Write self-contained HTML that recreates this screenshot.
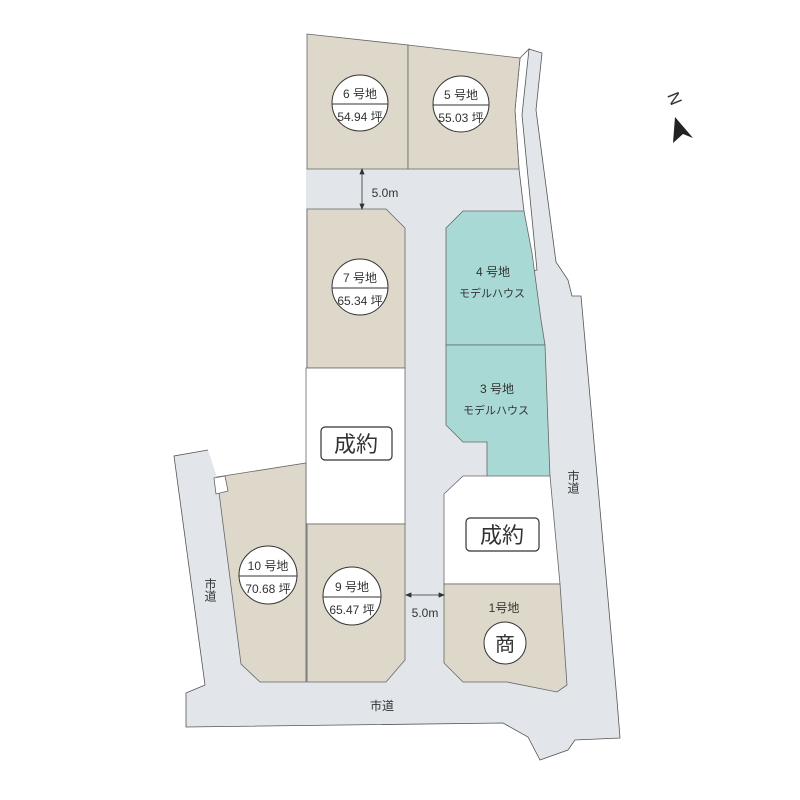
<!DOCTYPE html>
<html><head><meta charset="utf-8"><style>
html,body{margin:0;padding:0;background:#fff;width:800px;height:800px;overflow:hidden}
svg{display:block}
text{font-family:"Liberation Sans","Noto Sans CJK JP",sans-serif;fill:#333}
</style></head><body>
<svg width="800" height="800" viewBox="0 0 800 800" xmlns="http://www.w3.org/2000/svg">
<g fill="#e2e6ea">
<polygon points="529,49 542,53 536,110 556,262 568,280 572,296 581,296 617,700 620,738 575,740 568,750 540,760 528,737 503,723 186,727 186,693 205,685 174,456 208,450 217,477 241,664 260,682 306,682 306,168 515,168 520,58"/>
</g>
<polygon fill="#fff" stroke="#555" stroke-width="0.8" points="520,58 529,49 522,115 537,270 530,272 524,211 519,169 515,110"/>
<polyline fill="none" stroke="#555" stroke-width="0.8" points="208,450 174,456 205,685 186,693 186,727 503,723 528,737 540,760 568,750 575,740 620,738 617,700 581,296 572,296 568,280 556,262 536,110 542,53 529,49"/>
<g stroke="#666" stroke-width="0.8">
<polygon fill="#ddd8c9" points="307,34 408,45 408,169 307,169"/>
<polygon fill="#ddd8c9" points="408,45 520,58 515,110 519,169 408,169"/>
<polygon fill="#ddd8c9" points="307,209 386,209 405,228 405,368 307,368"/>
<rect fill="#fff" x="306" y="368" width="99" height="156"/>
<polygon fill="#ddd8c9" points="307,524 405,524 405,660 386,682 307,682"/>
<polygon fill="#ddd8c9" points="217,477 306,463 306,682 260,682 241,664"/>
<polygon fill="#fff" points="214,478 225,476 228,491 216,494"/>
<polygon fill="#a9d9d4" points="463,211 524,211 532,253 541,320 545,345 446,345 446,228"/>
<polygon fill="#a9d9d4" points="446,345 545,345 550,477 487,477 487,442 463,442 446,425"/>
<polygon fill="#fff" points="463,476 550,476 560,584 444,584 444,494"/>
<polygon fill="#ddd8c9" points="444,584 560,584 567,685 557,692 507,682 463,682 444,663"/>
</g>
<g fill="#fff" stroke="#333" stroke-width="1">
<circle cx="360" cy="103" r="28"/><circle cx="461" cy="104" r="28"/>
<circle cx="360" cy="287" r="28"/><circle cx="268" cy="575" r="29"/>
<circle cx="352" cy="596" r="29"/><circle cx="505" cy="643" r="21"/>
</g>
<g stroke="#333" stroke-width="1">
<line x1="332" y1="104" x2="388" y2="104"/><line x1="433" y1="105" x2="489" y2="105"/>
<line x1="332" y1="288" x2="388" y2="288"/><line x1="239" y1="576" x2="297" y2="576"/>
<line x1="323" y1="597" x2="381" y2="597"/>
</g>
<g font-size="12" text-anchor="middle">
<text x="360" y="98">6 号地</text><text x="360" y="121">54.94 坪</text>
<text x="461" y="99">5 号地</text><text x="461" y="122">55.03 坪</text>
<text x="360" y="282">7 号地</text><text x="360" y="305">65.34 坪</text>
<text x="268" y="570">10 号地</text><text x="268" y="593">70.68 坪</text>
<text x="352" y="591">9 号地</text><text x="352" y="614">65.47 坪</text>
<text x="493" y="276" font-size="12">4 号地</text><text x="492" y="297" font-size="11">モデルハウス</text>
<text x="497" y="393" font-size="12">3 号地</text><text x="496" y="414" font-size="11">モデルハウス</text>
<text x="504" y="612" font-size="12">1号地</text>
<text x="505" y="651" font-size="20">商</text>
<text x="385" y="197" font-size="12">5.0m</text>
<text x="425" y="617" font-size="12">5.0m</text>
<text x="382" y="710" font-size="12">市道</text>
</g>
<text x="573" y="470" font-size="12" writing-mode="tb">市道</text>
<text x="210" y="578" font-size="12" writing-mode="tb">市道</text>
<rect x="321" y="427" width="71" height="33" rx="4" fill="#fff" stroke="#333" stroke-width="1.2"/>
<text x="356" y="452" font-size="22" text-anchor="middle" fill="#222">成約</text>
<rect x="466" y="518" width="73" height="33" rx="4" fill="#fff" stroke="#333" stroke-width="1.2"/>
<text x="502" y="543" font-size="22" text-anchor="middle" fill="#222">成約</text>
<g stroke="#333" stroke-width="0.8" fill="#333">
<line x1="362" y1="172" x2="362" y2="207"/>
<polygon points="362,169 360,174 364,174"/><polygon points="362,209 360,204 364,204"/>
<line x1="408" y1="595" x2="442" y2="595"/>
<polygon points="406,595 411,593 411,597"/><polygon points="444,595 439,593 439,597"/>
</g>
<text x="0" y="0" font-size="17" transform="translate(667,95) rotate(68)" fill="#222">N</text>
<polygon points="675,117 673,143 683,134 693,138" fill="#222"/>
</svg>
</body></html>
